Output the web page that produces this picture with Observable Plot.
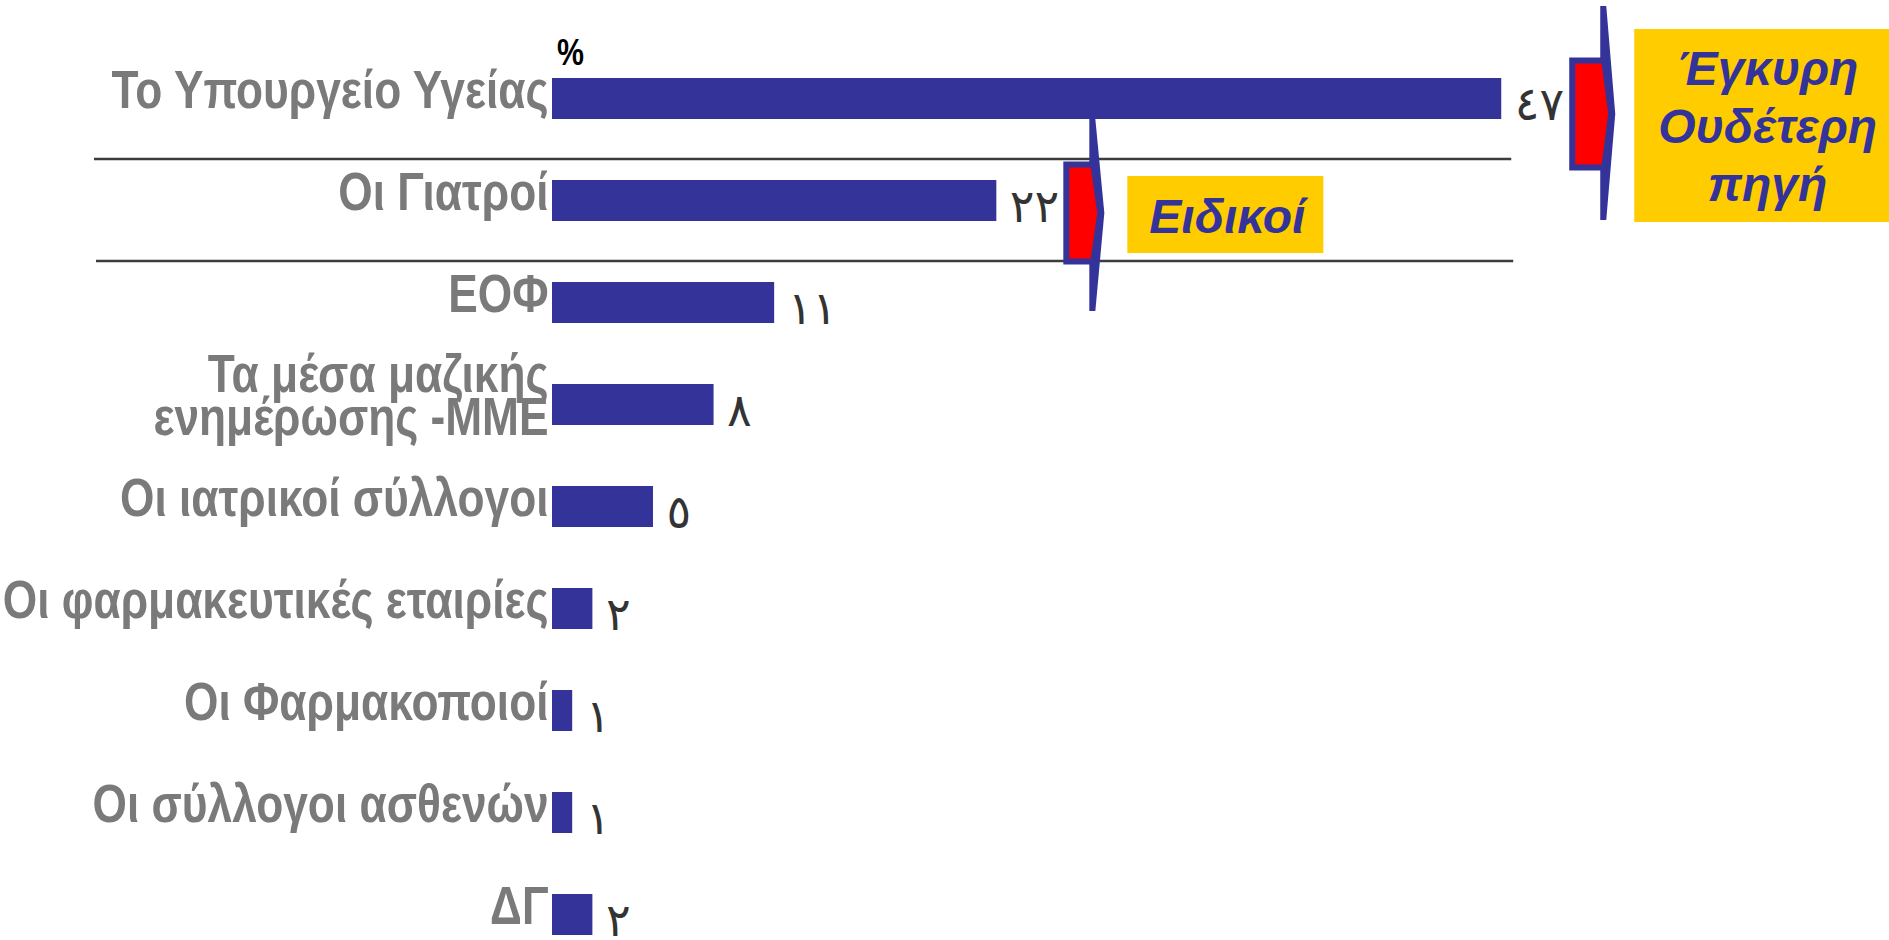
<!DOCTYPE html>
<html>
<head>
<meta charset="utf-8">
<script src="https://cdn.jsdelivr.net/npm/d3@7"></script>
<script src="https://cdn.jsdelivr.net/npm/@observablehq/plot@0.6"></script>
<style>
  html, body { margin: 0; padding: 0; background: #ffffff; }
  #chart svg { display: block; }
</style>
</head>
<body>
<div id="chart"></div>
<script>
// ---------- data ----------
const categories = [
  "Το Υπουργείο Υγείας",
  "Οι Γιατροί",
  "ΕΟΦ",
  "Τα μέσα μαζικής\nενημέρωσης -ΜΜΕ",
  "Οι ιατρικοί σύλλογοι",
  "Οι φαρμακευτικές εταιρίες",
  "Οι Φαρμακοποιοί",
  "Οι σύλλογοι ασθενών",
  "ΔΓ"
];
const values = [47, 22, 11, 8, 5, 2, 1, 1, 2];
const unitLabel = "%";
const sourceLabel = ["Έγκυρη", "Ουδέτερη", "πηγή"];   // bracket on row 1
const expertLabel = ["Ειδικοί"];                      // bracket on row 2
const separatedRows = ["Το Υπουργείο Υγείας", "Οι Γιατροί"];

// ---------- helpers ----------
const arabicDigits = "٠١٢٣٤٥٦٧٨٩";
const toArabic = n => String(n).replace(/\d/g, d => arabicDigits[+d]);
const data = categories.map((c, i) => ({category: c, value: values[i]}));

const BLUE = "#333399", RED = "#ff0000", YELLOW = "#ffcc00";
const LABEL_FONT = "'Liberation Sans', Arial, sans-serif";

const plot = Plot.plot({
  width: 1889,
  height: 940,
  marginLeft: 552,
  marginRight: 2,
  marginTop: 76,
  marginBottom: 3,
  style: {background: "#ffffff", fontFamily: LABEL_FONT},
  x: {domain: [0, 66.1], axis: null},
  y: {domain: categories, paddingInner: 0.6, paddingOuter: 0, axis: null},
  marks: [
    Plot.barX(data, {x: "value", y: "category", fill: BLUE}),
    Plot.text(data, {
      y: "category", text: "category", frameAnchor: "left",
      textAnchor: "end", dx: -4, dy: -5,
      fontSize: 53, fontWeight: "bold", fill: "#7a7a7a",
      lineHeight: 0.81, fontFamily: LABEL_FONT
    }),
    Plot.text(data, {
      x: "value", y: "category", text: d => toArabic(d.value),
      textAnchor: "start", dx: 13, dy: 6,
      fontSize: 46, fill: "#333333", fontFamily: "'DejaVu Sans', sans-serif"
    }),
    Plot.text([unitLabel], {
      text: d => d, frameAnchor: "top-left", textAnchor: "middle",
      dx: 18, dy: -38, fontSize: 37, fontWeight: "bold", fill: "#000000",
      fontFamily: LABEL_FONT
    })
  ]
});

document.getElementById("chart").appendChild(plot);

// narrow (condensed) look for the category labels, like Arial Narrow:
// compress glyphs with textLength, leaving Plot's positioning untouched
const norm = s => s.replace(/\s+/g, "");
function condense(strings, k) {
  const wanted = new Set(strings.map(norm));
  plot.querySelectorAll("text").forEach(el => {
    if (!wanted.has(norm(el.textContent))) return;
    const spans = el.querySelectorAll("tspan");
    const targets = spans.length ? Array.from(spans) : [el];
    targets.forEach(t => {
      const w = t.getComputedTextLength();
      if (w > 0) {
        t.setAttribute("textLength", (w * k).toFixed(1));
        t.setAttribute("lengthAdjust", "spacingAndGlyphs");
      }
    });
  });
}
condense(categories, 0.835);
condense([unitLabel], 0.82);

// ---------- annotations drawn with the plot's own scales ----------
const xs = plot.scale("x"), ys = plot.scale("y");
const X = v => xs.apply(v);
const Yc = c => ys.apply(c) + ys.bandwidth / 2;
const Ytop = c => ys.apply(c);
const svg = d3.select(plot);
const g = svg.append("g").attr("aria-label", "annotations");

// separator lines under the first two rows
separatedRows.forEach((c, i) => {
  const next = categories[categories.indexOf(c) + 1];
  const yy = Ytop(next) - 21;
  g.append("line")
    .attr("x1", X(0) - 458 + i * 2).attr("x2", X(values[0]) + 10 + i * 2)
    .attr("y1", yy).attr("y2", yy)
    .attr("stroke", "#3c3c3c").attr("stroke-width", 2.4);
});

function bracket(L, cy, up, down, half, left) {
  g.append("polygon")
    .attr("points", [[L, cy - up], [L + 6, cy - up], [L + 15, cy], [L + 6, cy + down], [L, cy + down]].join(" "))
    .attr("fill", BLUE);
  g.append("polygon")
    .attr("points", [[L - left + 3, cy - half + 3], [L + 4, cy - half + 3], [L + 11, cy], [L + 4, cy + half - 3], [L - left + 3, cy + half - 3]].join(" "))
    .attr("fill", RED).attr("stroke", BLUE).attr("stroke-width", 6).attr("stroke-linejoin", "miter");
}
function box(x0, y0, x1, y1, lines, cx, baseline0, size, lh) {
  g.append("rect").attr("x", x0).attr("y", y0).attr("width", x1 - x0).attr("height", y1 - y0).attr("fill", YELLOW);
  lines.forEach((t, i) => {
    g.append("text").text(t)
      .attr("x", cx).attr("y", baseline0 + i * lh)
      .attr("text-anchor", "middle")
      .attr("font-family", LABEL_FONT).attr("font-weight", "bold").attr("font-style", "italic")
      .attr("font-size", size).attr("fill", BLUE);
  });
}

// bracket for row 1 ("Έγκυρη Ουδέτερη πηγή")
{
  const L = X(values[0]) + 99;
  const cy = Yc(categories[0]) + 15.5;
  bracket(L, cy, 108, 106, 56.5, 31);
  const bx0 = L + 34, bx1 = 1889;
  box(bx0, cy - 85, bx1, cy + 108, sourceLabel, (bx0 + bx1) / 2 + 6, cy - 29, 48, 58);
}
// bracket for row 2 ("Ειδικοί")
{
  const L = X(values[1]) + 93;
  const cy = Yc(categories[1]) + 12.5;
  bracket(L, cy, 94, 98, 51.5, 26);
  const bx0 = L + 38, bx1 = L + 234;
  box(bx0, cy - 37, bx1, cy + 40, expertLabel, (bx0 + bx1) / 2 + 2, cy + 20, 48, 55);
}
</script>
</body>
</html>
